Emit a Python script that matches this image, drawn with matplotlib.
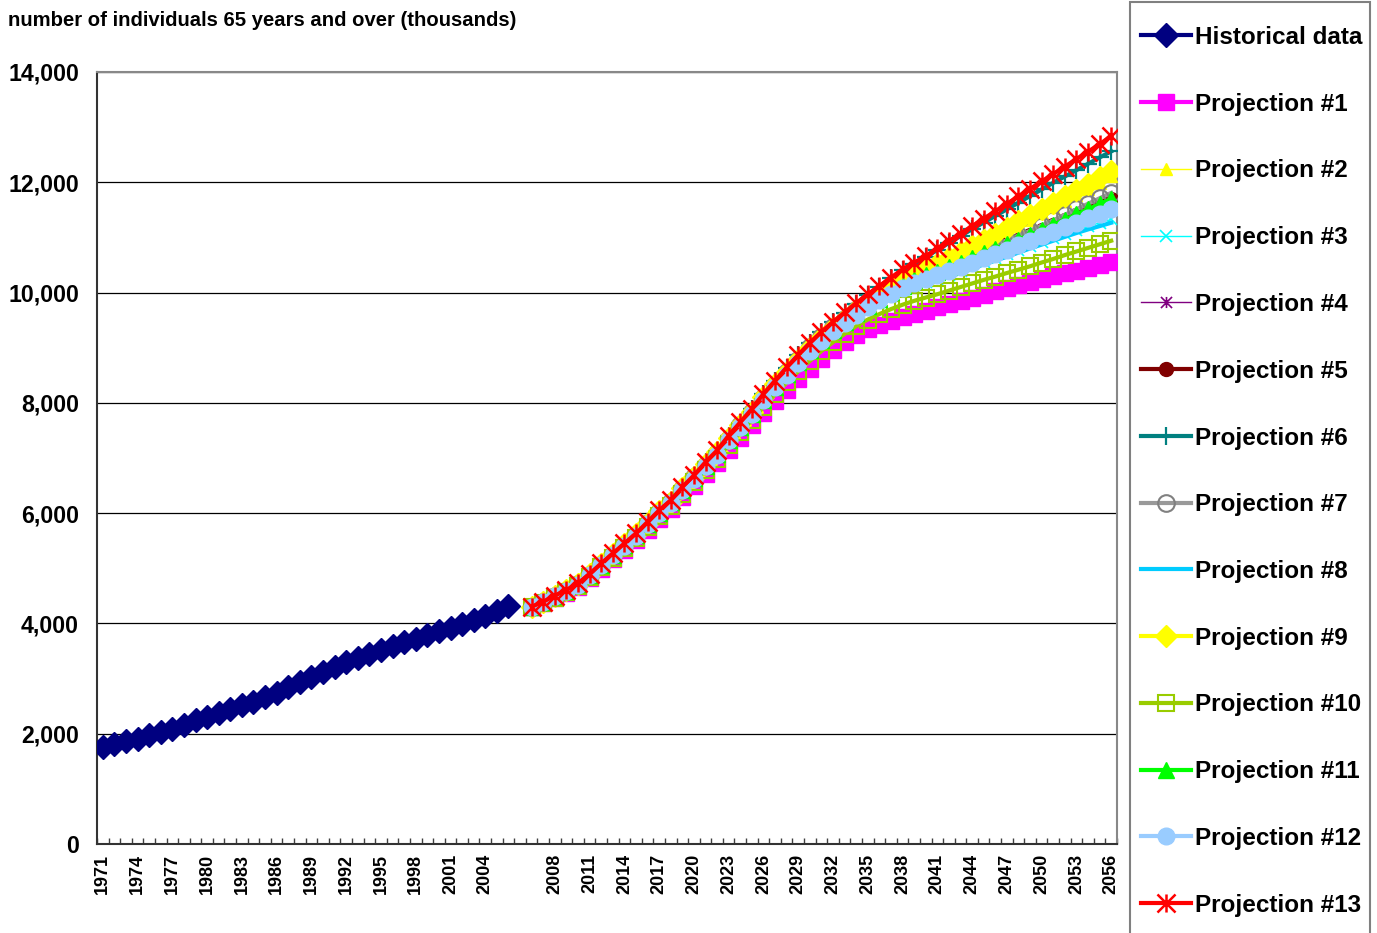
import matplotlib
matplotlib.use("Agg")
import matplotlib.pyplot as plt
import numpy as np
from matplotlib.path import Path
from matplotlib.patches import Rectangle
from matplotlib.ticker import FuncFormatter, FixedLocator

# ---------------- data ----------------
hist_years = list(range(1971, 2007))
hist = [1761, 1821, 1863, 1911, 1972, 2032, 2092, 2165, 2243, 2303, 2382, 2454, 2514, 2574,
        2665, 2743, 2846, 2936, 3027, 3117, 3207, 3298, 3370, 3448, 3521, 3587, 3660, 3720,
        3792, 3870, 3913, 3991, 4069, 4142, 4232, 4310]

proj_years = list(range(2006, 2057))
p1 = [4290, 4370, 4460, 4550, 4660, 4820, 4990, 5160, 5330, 5510,
      5700, 5890, 6070, 6290, 6490, 6710, 6910, 7150, 7370, 7590,
      7820, 8040, 8240, 8430, 8615, 8790, 8950, 9100, 9230, 9340,
      9420, 9490, 9550, 9610, 9670, 9730, 9790, 9850, 9910, 9965,
      10020, 10075, 10130, 10185, 10240, 10295, 10350, 10400, 10450, 10505, 10560]
p2 = [4304, 4392, 4500, 4598, 4715, 4886, 5070, 5249, 5427, 5605,
      5812, 6018, 6196, 6432, 6638, 6873, 7080, 7344, 7578, 7812,
      8074, 8306, 8536, 8746, 8954, 9142, 9315, 9473, 9631, 9774,
      9912, 10045, 10168, 10276, 10369, 10455, 10560, 10668, 10776, 10884,
      10996, 11108, 11216, 11324, 11436, 11548, 11660, 11772, 11884, 11996, 12105]
p3 = [4300, 4386, 4490, 4590, 4704, 4873, 5052, 5231, 5406, 5585,
      5790, 5994, 6178, 6407, 6616, 6845, 7049, 7307, 7541, 7774,
      8028, 8261, 8490, 8709, 8924, 9108, 9276, 9425, 9573, 9707,
      9830, 9943, 10047, 10138, 10190, 10246, 10322, 10398, 10474, 10550,
      10622, 10694, 10770, 10846, 10918, 10990, 11062, 11134, 11202, 11264, 11326]
p4 = [4302, 4388, 4492, 4591, 4707, 4878, 5060, 5240, 5416, 5597,
      5800, 6005, 6189, 6419, 6627, 6857, 7063, 7323, 7559, 7795,
      8052, 8287, 8518, 8738, 8952, 9140, 9313, 9466, 9617, 9755,
      9880, 9997, 10103, 10205, 10288, 10355, 10433, 10511, 10589, 10667,
      10745, 10823, 10901, 10980, 11067, 11155, 11247, 11340, 11428, 11520, 11612]
p5 = [4302, 4389, 4493, 4593, 4709, 4881, 5063, 5244, 5421, 5602,
      5806, 6012, 6197, 6428, 6637, 6868, 7075, 7336, 7573, 7810,
      8069, 8305, 8538, 8760, 8975, 9165, 9340, 9495, 9648, 9788,
      9916, 10035, 10143, 10247, 10331, 10400, 10480, 10560, 10640, 10720,
      10800, 10880, 10960, 11040, 11130, 11220, 11315, 11410, 11500, 11595, 11690]
p6 = [4304, 4392, 4502, 4603, 4722, 4896, 5083, 5264, 5445, 5626,
      5836, 6046, 6227, 6468, 6678, 6919, 7130, 7400, 7641, 7882,
      8154, 8394, 8634, 8860, 9080, 9280, 9460, 9630, 9800, 9960,
      10110, 10258, 10405, 10522, 10640, 10775, 10900, 11025, 11150, 11270,
      11390, 11510, 11630, 11750, 11870, 11990, 12105, 12220, 12335, 12450, 12560]
p7 = [4302, 4390, 4495, 4595, 4712, 4885, 5068, 5250, 5428, 5610,
      5815, 6022, 6208, 6440, 6650, 6882, 7090, 7352, 7590, 7828,
      8088, 8325, 8560, 8785, 9005, 9195, 9370, 9525, 9680, 9820,
      9950, 10070, 10180, 10285, 10370, 10440, 10525, 10610, 10695, 10780,
      10865, 10950, 11035, 11120, 11215, 11310, 11410, 11510, 11610, 11710, 11808]
p8 = [4300, 4385, 4488, 4587, 4700, 4868, 5046, 5224, 5398, 5576,
      5780, 5983, 6166, 6394, 6602, 6830, 7033, 7290, 7523, 7755,
      8008, 8240, 8468, 8686, 8900, 9083, 9250, 9398, 9545, 9678,
      9800, 9912, 10015, 10105, 10155, 10210, 10285, 10360, 10435, 10510,
      10580, 10650, 10725, 10800, 10870, 10940, 11010, 11080, 11145, 11205, 11266]
p9 = [4304, 4393, 4502, 4602, 4720, 4893, 5078, 5258, 5437, 5616,
      5824, 6032, 6211, 6448, 6656, 6892, 7100, 7366, 7602, 7838,
      8102, 8336, 8568, 8780, 8990, 9180, 9355, 9515, 9675, 9820,
      9960, 10095, 10220, 10330, 10425, 10513, 10620, 10730, 10840, 10950,
      11065, 11180, 11290, 11400, 11515, 11630, 11745, 11860, 11975, 12090, 12201]
p10 = [4295, 4375, 4470, 4565, 4680, 4845, 5020, 5195, 5370, 5550,
       5745, 5945, 6130, 6355, 6560, 6785, 6990, 7240, 7465, 7690,
       7930, 8155, 8370, 8570, 8760, 8940, 9100, 9250, 9390, 9510,
       9610, 9700, 9780, 9850, 9910, 9970, 10035, 10100, 10165, 10230,
       10290, 10355, 10415, 10477, 10545, 10610, 10680, 10745, 10810, 10875, 10940]
p11 = [4300, 4387, 4491, 4592, 4708, 4880, 5062, 5243, 5420, 5601,
       5805, 6010, 6194, 6424, 6632, 6862, 7068, 7328, 7564, 7800,
       8057, 8291, 8522, 8742, 8956, 9144, 9318, 9472, 9625, 9764,
       9892, 10010, 10120, 10224, 10310, 10380, 10462, 10545, 10628, 10712,
       10795, 10878, 10962, 11045, 11135, 11228, 11322, 11418, 11512, 11605, 11700]
p12 = [4300, 4385, 4490, 4590, 4705, 4875, 5055, 5235, 5410, 5590,
       5795, 6000, 6185, 6415, 6625, 6855, 7060, 7320, 7555, 7790,
       8045, 8280, 8510, 8730, 8945, 9130, 9300, 9450, 9600, 9735,
       9860, 9975, 10080, 10175, 10245, 10310, 10385, 10462, 10540, 10620,
       10700, 10780, 10860, 10935, 11020, 11105, 11185, 11265, 11345, 11425, 11508]
p13 = [4304, 4394, 4505, 4606, 4726, 4900, 5088, 5269, 5450, 5631,
       5841, 6052, 6233, 6474, 6685, 6926, 7137, 7408, 7649, 7891,
       8163, 8403, 8644, 8870, 9090, 9290, 9470, 9640, 9810, 9970,
       10121, 10271, 10422, 10542, 10663, 10800, 10935, 11070, 11205, 11340,
       11475, 11610, 11745, 11880, 12015, 12150, 12285, 12420, 12555, 12690, 12840]

series_names = ["Projection #%d" % i for i in range(1, 14)]
series_values = [p1, p2, p3, p4, p5, p6, p7, p8, p9, p10, p11, p12, p13]

# category axis: historical years, one blank category, projection years
categories = [str(y) for y in hist_years] + [""] + [str(y) for y in proj_years]
label_every = 3

# ---------------- styles ----------------
star = Path([(-1, -1), (1, 1), (-1, 1), (1, -1), (0, -1.0), (0, 1.0)],
            [Path.MOVETO, Path.LINETO, Path.MOVETO, Path.LINETO, Path.MOVETO, Path.LINETO])

styles = [
    dict(color="#FF00FF", lw=3.0, marker="s", ms=11, mfc="#FF00FF", mec="#FF00FF"),
    dict(color="#FFFF00", lw=1.0, marker="^", ms=8, mfc="#FFFF00", mec="#FFFF00"),
    dict(color="#00FFFF", lw=1.0, marker="x", ms=8, mfc="none", mec="#00FFFF", mew=1.2),
    dict(color="#800080", lw=1.0, marker=star, ms=8, mfc="none", mec="#800080", mew=1.2),
    dict(color="#800000", lw=3.0, marker="o", ms=10, mfc="#800000", mec="#800000"),
    dict(color="#008080", lw=3.0, marker="+", ms=13, mfc="none", mec="#008080", mew=1.6),
    dict(color="#999999", lw=3.0, marker="o", ms=12, mfc="none", mec="#808080", mew=1.5),
    dict(color="#00CCFF", lw=3.0, marker=None),
    dict(color="#FFFF00", lw=3.0, marker="D", ms=11, mfc="#FFFF00", mec="#FFFF00"),
    dict(color="#99CC00", lw=3.0, marker="s", ms=12, mfc="none", mec="#99CC00", mew=1.5),
    dict(color="#00FF00", lw=3.0, marker="^", ms=12, mfc="#00FF00", mec="#00FF00"),
    dict(color="#99CCFF", lw=3.0, marker="o", ms=12, mfc="#99CCFF", mec="#99CCFF"),
    dict(color="#FF0000", lw=3.0, marker=star, ms=13, mfc="none", mec="#FF0000", mew=1.8),
]

FONT = "Liberation Sans"

fig = plt.figure(figsize=(13.77, 9.33), dpi=100)
ax = fig.add_axes([97 / 1377, 1 - 844 / 933, (1117 - 97) / 1377, (844 - 72) / 933])

x_all = np.arange(len(categories))
x_hist = x_all[:len(hist_years)]
x_proj = x_all[len(hist_years) + 1:]

ax.plot(x_hist, hist, color="#000080", lw=3.0, marker="D", ms=12,
        mfc="#000080", mec="#000080", label="Historical data", zorder=3)
for name, vals, st in zip(series_names, series_values, styles):
    ax.plot(x_proj, vals, label=name, zorder=3, **st)

ax.set_xlim(-0.5, len(categories) - 0.5)
ax.set_ylim(0, 14000)
ax.set_yticks(np.arange(0, 14001, 2000))
ax.yaxis.set_major_formatter(FuncFormatter(lambda v, p: "{:,.0f}".format(v)))
ax.grid(axis="y", color="#000000", lw=0.9)
ax.set_axisbelow(True)

# x ticks: labels every 3rd category, tick marks at boundaries
lab_pos = x_all[::label_every]
ax.set_xticks(lab_pos)
ax.set_xticklabels([categories[i] for i in lab_pos], rotation=90,
                   fontsize=13, fontweight="bold", family=FONT)
ax.xaxis.set_minor_locator(FixedLocator(np.arange(-0.5, len(categories), 1.0)))
ax.tick_params(axis="x", which="major", length=0, pad=7)
ax.tick_params(axis="x", which="minor", length=4, direction="in", width=1, color="#404040")
ax.tick_params(axis="y", length=0, pad=13)
for lab in ax.get_yticklabels():
    lab.set_fontsize(16.7)
    lab.set_fontweight("bold")
    lab.set_family(FONT)

for side in ("top", "right"):
    ax.spines[side].set_color("#888888")
    ax.spines[side].set_linewidth(1.5)
for side in ("left", "bottom"):
    ax.spines[side].set_color("#333333")
    ax.spines[side].set_linewidth(1.5)

fig.text(8 / 1377, 1 - 20 / 933, "number of individuals 65 years and over (thousands)",
         ha="left", va="center", fontsize=14.6, fontweight="bold", family=FONT)

# legend box
fig.patches.append(Rectangle((1130 / 1377, -0.05), 240 / 1377, 1.05 - 2 / 933,
                             transform=fig.transFigure, fill=False,
                             edgecolor="#808080", lw=1.5))
handles, labels = ax.get_legend_handles_labels()
leg = fig.legend(handles, labels, loc="upper left",
                 bbox_to_anchor=(1141 / 1377, 1 - 26 / 933),
                 frameon=False, prop=dict(family=FONT, weight="bold", size=17.5),
                 handlelength=2.06, handletextpad=0.15, labelspacing=1.80,
                 borderaxespad=0, borderpad=0, numpoints=1)

fig.savefig("out.png", dpi=100)
